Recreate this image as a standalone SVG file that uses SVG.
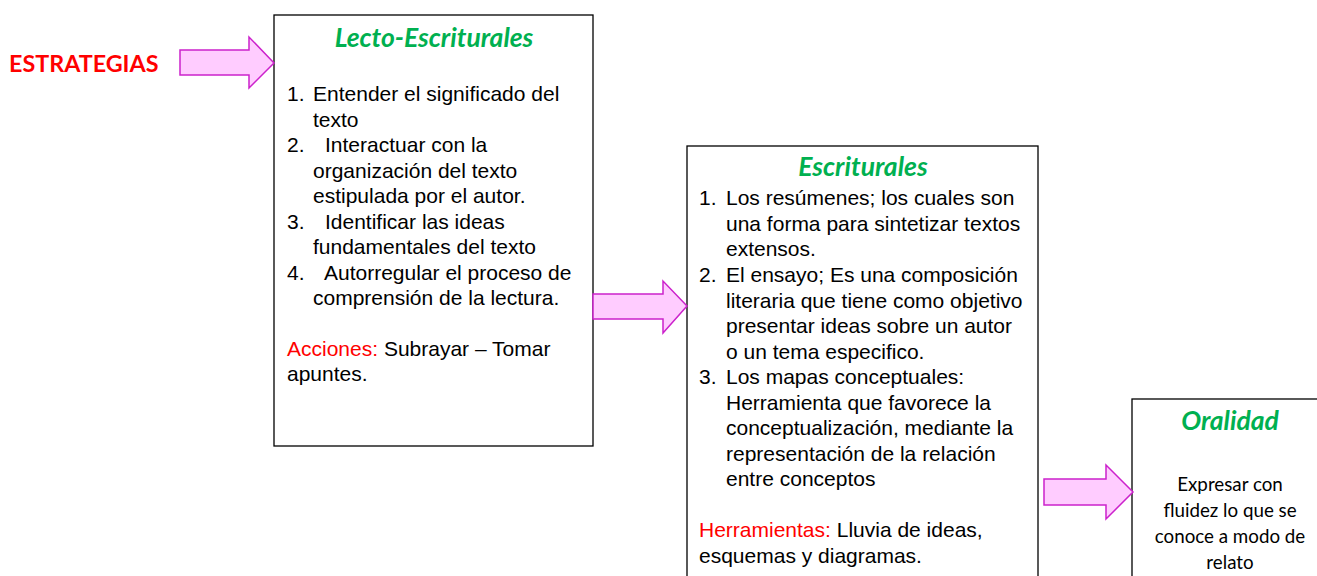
<svg xmlns="http://www.w3.org/2000/svg" width="1317" height="576" viewBox="0 0 1317 576">
<style>
.box{fill:#fff;stroke:#000;stroke-width:1.3}
.arrow{fill:#FFCCFF;stroke:#CC22CC;stroke-width:1.5;stroke-linejoin:miter}
.title{font-family:Lato,"Liberation Sans",sans-serif;font-weight:bold;font-style:italic;fill:#00B050;font-size:26.5px;text-anchor:middle}
.body{font-family:"Liberation Sans",Arial,sans-serif;font-size:21px;fill:#000}
.red{fill:#FF0000}
.cal{font-family:Lato,"Liberation Sans",sans-serif;font-size:18.75px;fill:#000;text-anchor:middle}
.label{font-family:Lato,"Liberation Sans",sans-serif;font-weight:bold;font-size:23.3px;fill:#FF0000}
</style>
<rect width="1317" height="576" fill="#fff"/>
<g id="estrategias">
<text class="label" x="9" y="72">ESTRATEGIAS</text>
</g>
<g id="lecto">
<rect class="box" x="274" y="15" width="319" height="431"/>
<text class="title" x="434" y="47">Lecto-Escriturales</text>
<g class="body">
<text x="287" y="101">1.</text><text x="313" y="101">Entender el significado del</text>
<text x="313" y="126.5">texto</text>
<text x="287" y="152">2.</text><text x="325" y="152">Interactuar con la</text>
<text x="313" y="177.5">organización del texto</text>
<text x="313" y="203">estipulada por el autor.</text>
<text x="287" y="228.5">3.</text><text x="325" y="228.5">Identificar las ideas</text>
<text x="313" y="254">fundamentales del texto</text>
<text x="287" y="279.5">4.</text><text x="324" y="279.5">Autorregular el proceso de</text>
<text x="313" y="305">comprensión de la lectura.</text>
<text x="287" y="356"><tspan class="red">Acciones:</tspan> Subrayar – Tomar</text>
<text x="287" y="381">apuntes.</text>
</g>
</g>
<g id="escriturales">
<rect class="box" x="687" y="146" width="351" height="440"/>
<text class="title" x="863" y="176">Escriturales</text>
<g class="body">
<text x="699" y="205">1.</text><text x="726" y="205">Los resúmenes; los cuales son</text>
<text x="726" y="230.6">una forma para sintetizar textos</text>
<text x="726" y="256">extensos.</text>
<text x="699" y="282">2.</text><text x="726" y="282">El ensayo; Es una composición</text>
<text x="726" y="307.5">literaria que tiene como objetivo</text>
<text x="726" y="333">presentar ideas sobre un autor</text>
<text x="726" y="358.5">o un tema especifico.</text>
<text x="699" y="384">3.</text><text x="726" y="384">Los mapas conceptuales:</text>
<text x="726" y="409.5">Herramienta que favorece la</text>
<text x="726" y="435">conceptualización, mediante la</text>
<text x="726" y="460.5">representación de la relación</text>
<text x="726" y="486">entre conceptos</text>
<text x="699" y="537"><tspan class="red">Herramientas:</tspan> Lluvia de ideas,</text>
<text x="699" y="562.5">esquemas y diagramas.</text>
</g>
</g>
<g id="oralidad">
<rect class="box" x="1132" y="399" width="200" height="200"/>
<text class="title" x="1230" y="430">Oralidad</text>
<text class="cal" x="1230" y="491">Expresar con</text>
<text class="cal" x="1230" y="517">fluidez lo que se</text>
<text class="cal" x="1230" y="543">conoce a modo de</text>
<text class="cal" x="1230" y="569">relato</text>
</g>
<g id="connectors">
<polygon class="arrow" points="180,50 249,50 249,37 274,63 249,88 249,75 180,75"/>
<polygon class="arrow" points="593,294 663,294 663,281 687,306 663,333 663,319 593,319"/>
<polygon class="arrow" points="1044,479 1106,479 1106,465 1133,492 1106,519 1106,505 1044,505"/>
</g>
</svg>
